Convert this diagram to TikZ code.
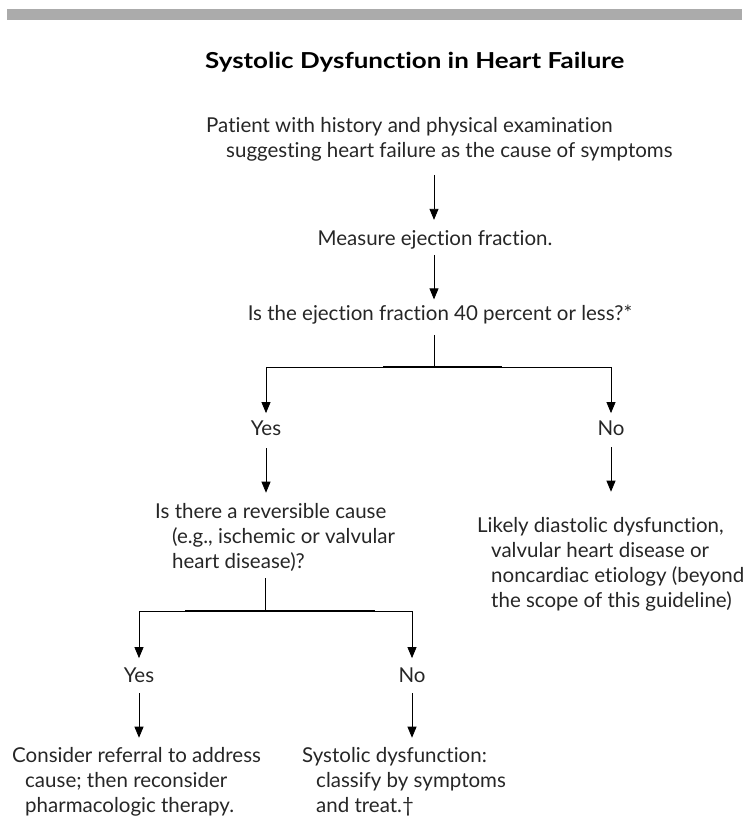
\documentclass[tikz,border=0pt]{standalone}
\usepackage{fontspec}
\setmainfont{Lato}[Ligatures=NoCommon]
\newfontfamily\ttlfont{Lato}[Ligatures=NoCommon, FakeStretch=1.18]
\usetikzlibrary{arrows.meta,positioning}
\definecolor{bargrey}{HTML}{ABABAB}
\definecolor{inkgrey}{HTML}{262626}
\tikzset{
  txt/.style={inner sep=0pt, align=left, text=inkgrey, font=\fontsize{20.5}{25}\selectfont},
  ttl/.style={inner sep=0pt, text=black, font=\ttlfont\fontsize{22}{26}\selectfont\bfseries},
  link/.style={draw=black, line width=0.8pt},
  arr/.style={link, -{Triangle[width=9pt,length=11pt]}, shorten <=10pt, shorten >=9pt},
}
\begin{document}
\begin{tikzpicture}[x=1pt,y=-1pt]
\useasboundingbox (0,0) rectangle (749,820);
\fill[bargrey] (7,9) rectangle (742,20);

\node[ttl, anchor=base west] (title) at (205,68) {Systolic Dysfunction in Heart Failure};

% main column (base anchor = last line)
\node[txt, anchor=base west] (patient) at (206,157)
  {Patient with history and physical examination\\
   \hspace*{20pt}suggesting heart failure as the cause of symptoms};
\node[txt, anchor=base] (measure) at (435,245) {Measure ejection fraction.};
\node[txt, anchor=base] (ejq) at (440,320) {Is the ejection fraction 40 percent or less?*};
\coordinate (fork1) at (434,367);
\node[txt, anchor=base] (yes1) at (266,435) {Yes};
\node[txt, anchor=base] (no1) at (611,435) {No};

% yes branch
\node[txt, anchor=base west] (reversible) at (155,568)
  {Is there a reversible cause\\
   \hspace*{17pt}(e.g., ischemic or valvular\\
   \hspace*{17pt}heart disease)?};
\coordinate (fork2) at (265,611);
\node[txt, anchor=base] (yes2) at (139,682) {Yes};
\node[txt, anchor=base] (no2) at (412,682) {No};
\node[txt, anchor=base west] (referral) at (12,812)
  {Consider referral to address\\
   \hspace*{13pt}cause; then reconsider\\
   \hspace*{13pt}pharmacologic therapy.};
\node[txt, anchor=base west] (systolic) at (302,812)
  {Systolic dysfunction:\\
   \hspace*{14pt}classify by symptoms\\
   \hspace*{14pt}and treat.\textdagger};

% no branch
\node[txt, anchor=base west] (likely) at (477,607)
  {Likely diastolic dysfunction,\\
   \hspace*{14pt}valvular heart disease or\\
   \hspace*{14pt}noncardiac etiology (beyond\\
   \hspace*{14pt}the scope of this guideline)};

% connectors
\draw[arr, shorten <=14pt, shorten >=10pt] (patient.south -| fork1) -- (measure.north -| fork1);
\draw[arr, shorten <=6pt, shorten >=5pt] (measure.south -| fork1) -- (ejq.north -| fork1);
\draw[link, shorten <=11pt] (ejq.south -| fork1) -- (fork1);
\draw[arr, shorten <=0pt, shorten >=7pt] (fork1) -| (yes1.north);
\draw[arr, shorten <=0pt, shorten >=7pt] (fork1) -| (no1.north);
\draw[link, line width=1.3pt] ([xshift=-51pt]fork1) -- ([xshift=68pt]fork1);
\draw[arr, shorten <=13pt, shorten >=10pt] (yes1.south) -- (yes1.south |- reversible.north);
\draw[arr, shorten <=12pt, shorten >=25pt] (no1.south) -- (no1.south |- likely.north);
\draw[link, shorten <=7pt] (reversible.south -| fork2) -- (fork2);
\draw[arr, shorten <=0pt, shorten >=9pt] (fork2) -| (yes2.north);
\draw[arr, shorten <=0pt, shorten >=9pt] (fork2) -| (no2.north);
\draw[link, line width=1.3pt] ([xshift=-80pt]fork2) -- ([xshift=110pt]fork2);
\draw[arr, shorten <=11pt, shorten >=9pt] (yes2.south) -- (yes2.south |- referral.north);
\draw[arr, shorten <=11pt, shorten >=9pt] (no2.south) -- (no2.south |- systolic.north);
\end{tikzpicture}
\end{document}
